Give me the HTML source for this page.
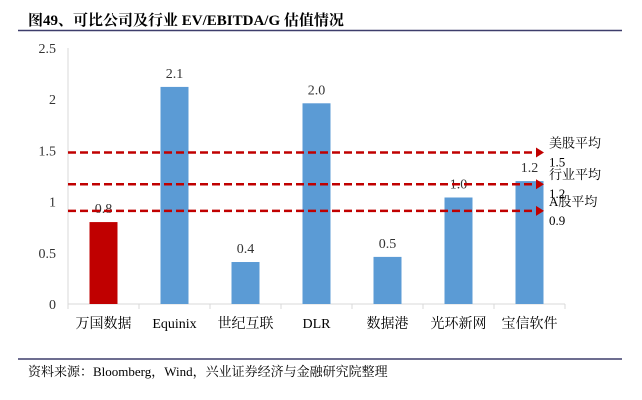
<!DOCTYPE html>
<html><head><meta charset="utf-8"><style>
body{margin:0;background:#fff;}
svg{display:block;}
text{font-family:"Liberation Serif","Noto Serif CJK SC","Noto Sans CJK SC",serif;}
</style></head><body>
<svg id="c" width="642" height="400">
<text x="28" y="25" font-size="15" font-weight="bold" fill="#000">图49、可比公司及行业 EV/EBITDA/G 估值情况</text>
<line x1="18" y1="30.5" x2="622" y2="30.5" stroke="#3d3d6b" stroke-width="1.5"/>
<line x1="18" y1="359" x2="622" y2="359" stroke="#3d3d6b" stroke-width="1.5"/>
<text x="28" y="376" font-size="13" fill="#000">资料来源：Bloomberg，Wind，兴业证券经济与金融研究院整理</text>
<g id="plot"></g>
</svg>
<script>
const categories=["万国数据","Equinix","世纪互联","DLR","数据港","光环新网","宝信软件"];
const values=[0.80,2.12,0.41,1.96,0.46,1.04,1.20];
const valueLabels=["0.8","2.1","0.4","2.0","0.5","1.0","1.2"];
const yTicks=[0,0.5,1,1.5,2,2.5];
const yTickLabels=["0","0.5","1","1.5","2","2.5"];
const refNames=["美股平均","行业平均","A股平均"];
const refValues=[1.48,1.17,0.91];
const refLabels=["1.5","1.2","0.9"];

const NS="http://www.w3.org/2000/svg";
const g=document.getElementById("plot");
const x0=68,step=71,y0=304,yMax=2.5,yTop=48;
const y=v=>y0-(v/yMax)*(y0-yTop);
const xc=i=>x0+step*(i+0.5);
function mk(t,a,p){const e=document.createElementNS(NS,t);for(const k in a)e.setAttribute(k,a[k]);(p||g).appendChild(e);return e;}
let e=mk("line",{x1:x0,y1:y(0),x2:x0,y2:y(yMax),stroke:"#d9d9d9"});


yTicks.forEach((t,i)=>{const tx=mk("text",{x:x0-12,y:y(t)+5,"font-size":"14","text-anchor":"end",fill:"#333"});tx.textContent=yTickLabels[i];

});
e=mk("line",{x1:x0,y1:y0,x2:x0+step*categories.length,y2:y0,stroke:"#d9d9d9"});


for(let i=0;i<=categories.length;i++){const tk=mk("line",{x1:x0+step*i,y1:y0,x2:x0+step*i,y2:y0+5,stroke:"#d9d9d9"});

}
const bw=28;
categories.forEach((c,i)=>{
 const b=mk("rect",{x:xc(i)-bw/2,y:y(values[i]),width:bw,height:y0-y(values[i]),fill:i===0?"#c00000":"#5b9bd5"});
 
 
 const vl=mk("text",{x:xc(i),y:y(values[i])-9,"font-size":"14","text-anchor":"middle",fill:"#333"});vl.textContent=valueLabels[i];
 
 
 const cl=mk("text",{x:xc(i),y:y0+24,"font-size":"14","text-anchor":"middle",fill:"#000"});cl.textContent=c;
 
 
});
refValues.forEach((v,i)=>{
 const yy=y(v);
 const l=mk("line",{x1:x0,y1:yy,x2:537,y2:yy,stroke:"#c00000","stroke-width":"2.5","stroke-dasharray":"8,4"});
 
 
 const a=mk("polygon",{points:`536,${yy-5} 544,${yy} 536,${yy+5}`,fill:"#c00000"});
 
 
 const t1=mk("text",{x:549,y:yy-5,"font-size":"13",fill:"#000"});t1.textContent=refNames[i];
 
 
 const t2=mk("text",{x:549,y:yy+14,"font-size":"13",fill:"#000"});t2.textContent=refLabels[i];
 
 
});
</script>
</body></html>
